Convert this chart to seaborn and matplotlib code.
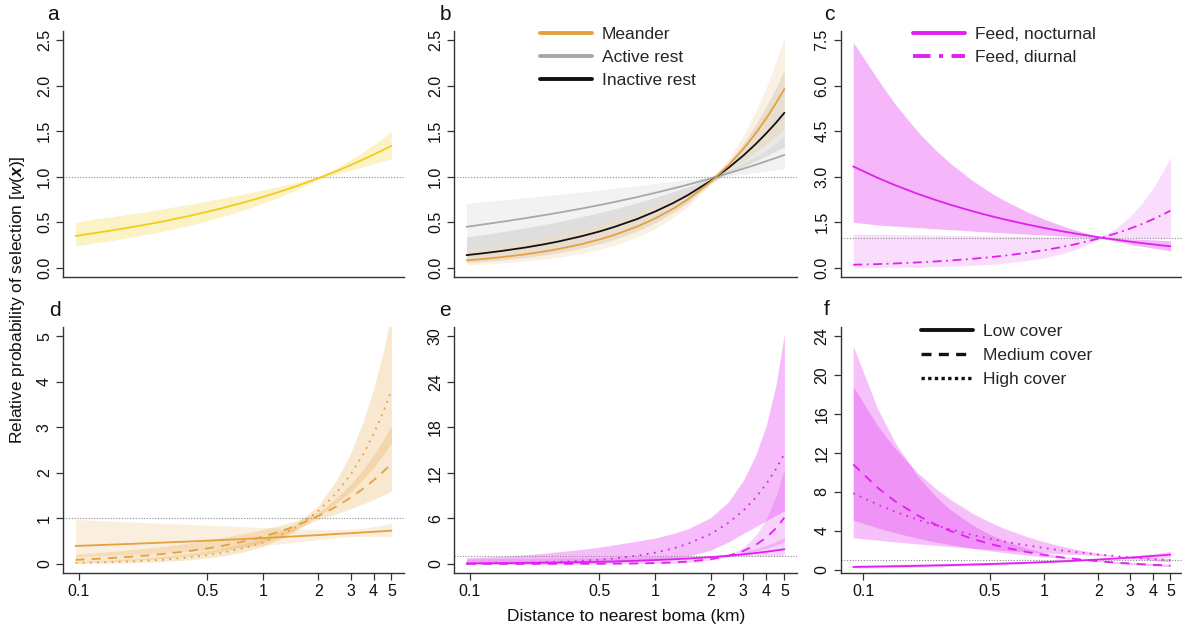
import numpy as np
import pandas as pd
import matplotlib
matplotlib.use("Agg")
import matplotlib.pyplot as plt
from matplotlib.lines import Line2D
from matplotlib.ticker import NullLocator
import seaborn as sns

# ---------------- data ----------------
X_ABDE = [0.096, 0.12, 0.15, 0.2, 0.25, 0.3, 0.4, 0.5, 0.6, 0.8, 1, 1.25, 1.5, 2, 2.5, 3, 3.5, 4, 4.5, 5]
X_CF = [0.088, 0.12, 0.15, 0.2, 0.25, 0.3, 0.4, 0.5, 0.6, 0.8, 1, 1.25, 1.5, 2, 2.5, 3, 3.5, 4, 4.5, 5]

# a
a_fit = [0.35, 0.380, 0.41, 0.452, 0.487, 0.518, 0.571, 0.616, 0.655, 0.722, 0.778, 0.839, 0.892, 0.984, 1.06, 1.128, 1.188, 1.243, 1.294, 1.34]
a_hi = [0.50, 0.534, 0.561, 0.598, 0.628, 0.655, 0.698, 0.734, 0.764, 0.815, 0.856, 0.899, 0.937, 1.0, 1.092, 1.187, 1.272, 1.352, 1.427, 1.50]
a_lo = [0.24, 0.271, 0.30, 0.342, 0.378, 0.410, 0.467, 0.517, 0.561, 0.640, 0.707, 0.783, 0.850, 0.968, 1.03, 1.072, 1.109, 1.143, 1.173, 1.20]

# b
b_meander = [0.0825, 0.0994, 0.119, 0.1496, 0.179, 0.2069, 0.260, 0.3113, 0.360, 0.453, 0.542, 0.648, 0.750, 0.944, 1.129, 1.305, 1.477, 1.644, 1.806, 1.964]
b_meander_hi = [0.206, 0.232, 0.260, 0.301, 0.337, 0.370, 0.428, 0.480, 0.526, 0.610, 0.683, 0.766, 0.841, 0.973, 1.191, 1.452, 1.718, 1.988, 2.259, 2.534]
b_meander_lo = [0.033, 0.0426, 0.054, 0.0744, 0.095, 0.1157, 0.158, 0.2019, 0.246, 0.337, 0.430, 0.548, 0.669, 0.916, 1.070, 1.173, 1.270, 1.360, 1.444, 1.522]
b_active = [0.451, 0.479, 0.507, 0.546, 0.578, 0.605, 0.651, 0.689, 0.722, 0.777, 0.823, 0.871, 0.912, 0.982, 1.039, 1.089, 1.132, 1.172, 1.207, 1.240]
b_active_hi = [0.707, 0.727, 0.745, 0.771, 0.791, 0.807, 0.833, 0.855, 0.873, 0.902, 0.926, 0.949, 0.969, 1.002, 1.071, 1.153, 1.225, 1.293, 1.37, 1.45]
b_active_lo = [0.207, 0.233, 0.261, 0.301, 0.338, 0.370, 0.428, 0.478, 0.525, 0.607, 0.680, 0.760, 0.834, 0.964, 1.008, 1.028, 1.046, 1.063, 1.077, 1.090]
b_inactive = [0.140, 0.1623, 0.187, 0.224, 0.258, 0.2891, 0.347, 0.3989, 0.448, 0.536, 0.618, 0.7106, 0.797, 0.956, 1.100, 1.233, 1.359, 1.479, 1.592, 1.702]
b_inactive_hi = [0.339, 0.368, 0.398, 0.440, 0.476, 0.507, 0.561, 0.606, 0.646, 0.714, 0.773, 0.836, 0.890, 0.985, 1.158, 1.366, 1.572, 1.778, 1.977, 2.177]
b_inactive_lo = [0.058, 0.0716, 0.088, 0.114, 0.140, 0.165, 0.214, 0.263, 0.310, 0.402, 0.494, 0.604, 0.714, 0.928, 1.045, 1.113, 1.175, 1.230, 1.282, 1.331]

# c
c_noct = [3.34, 2.965, 2.723, 2.438, 2.239, 2.088, 1.870, 1.717, 1.601, 1.434, 1.316, 1.209, 1.127, 1.010, 0.927, 0.864, 0.815, 0.774, 0.740, 0.711]
c_noct_hi = [7.425, 6.215, 5.392, 4.486, 3.891, 3.464, 2.884, 2.500, 2.227, 1.853, 1.606, 1.394, 1.241, 1.032, 0.978, 0.956, 0.937, 0.921, 0.907, 0.896]
c_noct_lo = [1.502, 1.415, 1.375, 1.325, 1.288, 1.259, 1.213, 1.179, 1.151, 1.110, 1.079, 1.049, 1.024, 0.988, 0.879, 0.781, 0.709, 0.650, 0.604, 0.564]
c_diur = [0.104, 0.1238, 0.146, 0.1797, 0.212, 0.2416, 0.298, 0.3508, 0.401, 0.495, 0.582, 0.6848, 0.783, 0.965, 1.135, 1.298, 1.452, 1.600, 1.744, 1.883]
c_diur_hi = [1.111, 1.106, 1.099, 1.086, 1.079, 1.071, 1.059, 1.052, 1.046, 1.036, 1.027, 1.018, 1.012, 1.002, 1.296, 1.706, 2.146, 2.619, 3.125, 3.655]
c_diur_lo = [0.0097, 0.0139, 0.0194, 0.0297, 0.0417, 0.0545, 0.0838, 0.117, 0.1537, 0.2366, 0.3297, 0.4605, 0.6056, 0.930, 0.994, 0.988, 0.982, 0.977, 0.973, 0.970]

# d
d_low = [0.394, 0.408, 0.423, 0.442, 0.458, 0.471, 0.492, 0.510, 0.524, 0.548, 0.568, 0.588, 0.605, 0.633, 0.655, 0.674, 0.691, 0.705, 0.718, 0.730]
d_low_hi = [0.977, 0.957, 0.940, 0.917, 0.900, 0.886, 0.865, 0.849, 0.835, 0.815, 0.801, 0.786, 0.774, 0.756, 0.745, 0.760, 0.785, 0.818, 0.857, 0.894]
d_low_lo = [0.159, 0.174, 0.190, 0.213, 0.233, 0.250, 0.280, 0.306, 0.329, 0.369, 0.403, 0.440, 0.473, 0.530, 0.579, 0.600, 0.603, 0.600, 0.598, 0.596]
d_med = [0.0888, 0.1073, 0.129, 0.1622, 0.194, 0.2252, 0.284, 0.3408, 0.395, 0.499, 0.598, 0.7157, 0.830, 1.048, 1.255, 1.454, 1.648, 1.836, 2.020, 2.2]
d_med_hi = [0.211, 0.240, 0.271, 0.316, 0.356, 0.393, 0.458, 0.518, 0.572, 0.668, 0.754, 0.850, 0.938, 1.130, 1.438, 1.749, 2.067, 2.389, 2.711, 3.04]
d_med_lo = [0.037, 0.048, 0.061, 0.0833, 0.106, 0.129, 0.176, 0.224, 0.273, 0.373, 0.474, 0.603, 0.735, 0.972, 1.095, 1.209, 1.314, 1.411, 1.505, 1.60]
d_high = [0.0221, 0.0299, 0.0399, 0.058, 0.0775, 0.0983, 0.1428, 0.1909, 0.2422, 0.3517, 0.470, 0.628, 0.796, 1.158, 1.547, 1.961, 2.396, 2.851, 3.322, 3.81]
d_high_hi = [0.0536, 0.0678, 0.0848, 0.1134, 0.142, 0.1708, 0.228, 0.2862, 0.344, 0.460, 0.576, 0.7216, 0.868, 1.276, 1.819, 2.432, 3.105, 3.840, 4.631, 5.48]
d_high_lo = [0.0091, 0.0132, 0.0188, 0.0297, 0.0423, 0.0566, 0.0893, 0.1273, 0.170, 0.269, 0.383, 0.5466, 0.730, 1.051, 1.315, 1.581, 1.849, 2.117, 2.383, 2.65]

# e
e_low = [0.069, 0.0841, 0.1015, 0.1291, 0.156, 0.1816, 0.231, 0.2789, 0.325, 0.414, 0.500, 0.6024, 0.702, 0.894, 1.078, 1.257, 1.430, 1.601, 1.767, 1.93]
e_low_hi = [0.658, 0.681, 0.703, 0.731, 0.756, 0.774, 0.806, 0.831, 0.853, 0.889, 0.918, 0.945, 0.969, 1.010, 1.185, 1.570, 1.989, 2.445, 2.931, 3.447]
e_low_lo = [0.0072, 0.0104, 0.0147, 0.0228, 0.0322, 0.0426, 0.0662, 0.0936, 0.124, 0.193, 0.272, 0.384, 0.508, 0.791, 0.981, 1.006, 1.028, 1.048, 1.065, 1.081]
e_med = [0.0003, 0.00054, 0.00095, 0.00195, 0.0034, 0.00537, 0.011, 0.01926, 0.0304, 0.0623, 0.109, 0.1903, 0.300, 0.617, 1.076, 1.697, 2.496, 3.486, 4.680, 6.09]
e_med_hi = [0.0071, 0.0102, 0.0145, 0.0225, 0.0317, 0.0421, 0.0653, 0.0924, 0.122, 0.190, 0.269, 0.379, 0.501, 0.781, 1.163, 2.186, 3.724, 5.916, 8.887, 12.5]
e_med_lo = [0.00001, 0.00003, 0.00006, 0.00017, 0.00036, 0.00069, 0.0019, 0.0040, 0.0076, 0.0204, 0.0442, 0.0956, 0.180, 0.487, 0.995, 1.318, 1.673, 2.054, 2.464, 2.95]
e_high = [0.0522, 0.0727, 0.0996, 0.150, 0.206, 0.267, 0.401, 0.551, 0.715, 1.074, 1.476, 2.025, 2.623, 3.948, 5.420, 7.017, 8.738, 10.56, 12.48, 14.5]
e_high_hi = [0.8, 0.9, 1.0, 1.2, 1.4, 1.6, 1.9, 2.2, 2.5, 3.0, 3.4, 4.0, 4.6, 6.1, 8.2, 11.0, 14.3, 18.3, 23.5, 30.3]
e_high_lo = [0.004, 0.007, 0.01, 0.02, 0.03, 0.05, 0.09, 0.14, 0.2, 0.35, 0.55, 0.75, 1.0, 1.8, 2.9, 4.0, 4.9, 5.7, 6.4, 7.0]

# f
f_low = [0.270, 0.309, 0.340, 0.385, 0.424, 0.458, 0.518, 0.571, 0.617, 0.699, 0.770, 0.847, 0.916, 1.038, 1.142, 1.236, 1.321, 1.399, 1.472, 1.54]
f_low_hi = [0.476, 0.515, 0.545, 0.586, 0.619, 0.648, 0.696, 0.737, 0.771, 0.828, 0.877, 0.927, 0.970, 1.075, 1.231, 1.377, 1.513, 1.642, 1.763, 1.880]
f_low_lo = [0.153, 0.185, 0.212, 0.253, 0.290, 0.324, 0.386, 0.443, 0.494, 0.590, 0.676, 0.774, 0.865, 1.002, 1.059, 1.110, 1.154, 1.192, 1.229, 1.261]
f_med = [10.81, 8.41, 7.02, 5.56, 4.64, 4.00, 3.17, 2.65, 2.28, 1.81, 1.51, 1.260, 1.087, 0.861, 0.719, 0.620, 0.547, 0.491, 0.4465, 0.41]
f_med_hi = [22.97, 16.53, 13.04, 9.60, 7.57, 6.23, 4.59, 3.63, 2.98, 2.20, 1.735, 1.368, 1.127, 0.929, 0.821, 0.742, 0.680, 0.632, 0.592, 0.558]
f_med_lo = [5.09, 4.28, 3.78, 3.22, 2.84, 2.57, 2.19, 1.936, 1.744, 1.487, 1.314, 1.160, 1.048, 0.798, 0.630, 0.518, 0.440, 0.382, 0.337, 0.301]
f_high = [7.85, 6.68, 5.95, 5.12, 4.56, 4.15, 3.57, 3.18, 2.89, 2.49, 2.22, 1.974, 1.80, 1.55, 1.38, 1.25, 1.156, 1.08, 1.014, 0.96]
f_high_hi = [18.81, 14.78, 12.45, 9.95, 8.37, 7.27, 5.81, 4.89, 4.24, 3.40, 2.86, 2.404, 2.09, 1.674, 1.408, 1.335, 1.286, 1.242, 1.202, 1.169]
f_high_lo = [3.28, 3.02, 2.84, 2.64, 2.49, 2.37, 2.19, 2.07, 1.97, 1.82, 1.72, 1.621, 1.55, 1.435, 1.353, 1.170, 1.040, 0.939, 0.856, 0.788]

XTICKS = [0.1, 0.5, 1, 2, 3, 4, 5]
XTICKLABELS = ["0.1", "0.5", "1", "2", "3", "4", "5"]
YT_AB = [0.0, 0.5, 1.0, 1.5, 2.0, 2.5]
YT_C = [0.0, 1.5, 3.0, 4.5, 6.0, 7.5]
YT_D = [0, 1, 2, 3, 4, 5]
YT_E = [0, 6, 12, 18, 24, 30]
YT_F = [0, 4, 8, 12, 16, 20, 24]

# ---------------- style ----------------
sns.set_style("ticks")
plt.rcParams["font.family"] = ["Liberation Sans", "DejaVu Sans"]
plt.rcParams["mathtext.fontset"] = "custom"
plt.rcParams["mathtext.rm"] = "Liberation Sans"
plt.rcParams["mathtext.it"] = "Liberation Sans:italic"
plt.rcParams["mathtext.bf"] = "Liberation Sans:bold"
HAS_BFIT = "mathtext.bfit" in plt.rcParams
if HAS_BFIT:
    plt.rcParams["mathtext.bfit"] = "Liberation Sans:bold:italic"

YEL = "#F2CD1E"
ORA = "#E6A03C"
GRY = "#A8A8A8"
BLK = "#111111"
MAG = "#E020F0"
SPINE = "#333333"
LW = 1.3
DASH = (5, 4)
DOT = (1, 3)
DOTDASH = (5, 2.5, 1, 2.5)

W, H = 1182, 631
fig = plt.figure(figsize=(W / 100, H / 100), dpi=100)


def make_ax(left_px, top_px, width_px, height_px):
    return fig.add_axes([left_px / W, 1 - (top_px + height_px) / H, width_px / W, height_px / H])


def style(ax, xlim, ylim, yticks, bottom_row):
    ax.set_xscale("log")
    ax.set_xlim(*xlim)
    ax.set_ylim(*ylim)
    for s in ["top", "right"]:
        ax.spines[s].set_visible(False)
    for s in ["left", "bottom"]:
        ax.spines[s].set_color(SPINE)
        ax.spines[s].set_linewidth(1.0)
    ax.set_yticks(yticks)
    ax.set_yticklabels([f"{t:g}" if isinstance(t, int) else f"{t:.1f}" for t in yticks],
                       rotation=90, va="center", fontsize=11.5)
    ax.tick_params(axis="y", length=5, width=0.9, color=SPINE, pad=3, labelcolor="#111111")
    ax.xaxis.set_minor_locator(NullLocator())
    if bottom_row:
        ax.set_xticks(XTICKS)
        ax.set_xticklabels(XTICKLABELS, fontsize=11.5)
        ax.tick_params(axis="x", length=5, width=0.9, color=SPINE, pad=3, labelcolor="#111111")
    else:
        ax.set_xticks([])
        ax.tick_params(axis="x", length=0, labelbottom=False)
    ax.xaxis.set_minor_locator(NullLocator())
    ax.axhline(1, color="#8c8c8c", lw=0.8, ls=(0, (1, 1.5)), zorder=2)
    ax.set_xlabel("")
    ax.set_ylabel("")


def band(ax, x, lo, hi, color, alpha):
    ax.fill_between(x, lo, hi, color=color, alpha=alpha, lw=0, zorder=1)


def lines(ax, x, series, palette, dashes):
    frames = []
    for name, ys in series.items():
        frames.append(pd.DataFrame({"x": x, "y": ys, "series": name}))
    df = pd.concat(frames, ignore_index=True)
    sns.lineplot(data=df, x="x", y="y", hue="series", style="series",
                 palette=palette, dashes=dashes, estimator=None, sort=False,
                 legend=False, linewidth=LW, ax=ax, zorder=3)


XL_AB = (0.0821, 5.85)
XL_C = (0.075, 5.87)
TOP1, TOP2, HT = 31, 327, 246
COLS = [(63, 341, XL_AB), (454, 343, XL_AB), (840.7, 342.3, XL_C)]

# ---- a ----
ax = make_ax(COLS[0][0], TOP1, COLS[0][1], HT)
band(ax, X_ABDE, a_lo, a_hi, YEL, 0.25)
lines(ax, X_ABDE, {"a": a_fit}, {"a": YEL}, {"a": ""})
style(ax, COLS[0][2], (-0.1, 2.6), YT_AB, False)

# ---- b ----
ax = make_ax(COLS[1][0], TOP1, COLS[1][1], HT)
band(ax, X_ABDE, b_active_lo, b_active_hi, "#808080", 0.10)
band(ax, X_ABDE, b_inactive_lo, b_inactive_hi, "#808080", 0.17)
band(ax, X_ABDE, b_meander_lo, b_meander_hi, ORA, 0.14)
lines(ax, X_ABDE, {"Active rest": b_active, "Inactive rest": b_inactive, "Meander": b_meander},
      {"Active rest": GRY, "Inactive rest": BLK, "Meander": ORA},
      {"Active rest": "", "Inactive rest": "", "Meander": ""})
style(ax, COLS[1][2], (-0.1, 2.6), YT_AB, False)
hb = [Line2D([], [], color=ORA, lw=2.8), Line2D([], [], color=GRY, lw=2.8), Line2D([], [], color=BLK, lw=2.8)]
fig.legend(hb, ["Meander", "Active rest", "Inactive rest"], loc="upper left",
           bbox_to_anchor=(540 / W, 1 - 27 / H), frameon=False, fontsize=12.5,
           handlelength=3.0, handletextpad=0.55, labelspacing=0.45, borderpad=0, borderaxespad=0)

# ---- c ----
ax = make_ax(COLS[2][0], TOP1, COLS[2][1], HT)
band(ax, X_CF, c_noct_lo, c_noct_hi, MAG, 0.32)
band(ax, X_CF, c_diur_lo, c_diur_hi, MAG, 0.15)
lines(ax, X_CF, {"Feed, nocturnal": c_noct, "Feed, diurnal": c_diur},
      {"Feed, nocturnal": MAG, "Feed, diurnal": MAG},
      {"Feed, nocturnal": "", "Feed, diurnal": DOTDASH})
style(ax, COLS[2][2], (-0.3, 7.8), YT_C, False)
hc = [Line2D([], [], color=MAG, lw=2.8), Line2D([], [], color=MAG, lw=2.8, ls=(0, (4.5, 2.2, 1, 2.2)))]
fig.legend(hc, ["Feed, nocturnal", "Feed, diurnal"], loc="upper left",
           bbox_to_anchor=(913 / W, 1 - 27 / H), frameon=False, fontsize=12.5,
           handlelength=3.0, handletextpad=0.55, labelspacing=0.45, borderpad=0, borderaxespad=0)

# ---- d ----
ax = make_ax(COLS[0][0], TOP2, COLS[0][1], HT)
band(ax, X_ABDE, d_low_lo, d_low_hi, ORA, 0.17)
band(ax, X_ABDE, d_med_lo, d_med_hi, ORA, 0.24)
band(ax, X_ABDE, d_high_lo, d_high_hi, ORA, 0.24)
lines(ax, X_ABDE, {"Low": d_low, "Medium": d_med, "High": d_high},
      {"Low": ORA, "Medium": ORA, "High": ORA},
      {"Low": "", "Medium": DASH, "High": DOT})
style(ax, COLS[0][2], (-0.2, 5.2), YT_D, True)

# ---- e ----
ax = make_ax(COLS[1][0], TOP2, COLS[1][1], HT)
band(ax, X_ABDE, e_low_lo, e_low_hi, MAG, 0.2)
band(ax, X_ABDE, e_med_lo, e_med_hi, MAG, 0.2)
band(ax, X_ABDE, e_high_lo, e_high_hi, MAG, 0.3)
lines(ax, X_ABDE, {"Low": e_low, "Medium": e_med, "High": e_high},
      {"Low": MAG, "Medium": MAG, "High": MAG},
      {"Low": "", "Medium": DASH, "High": DOT})
style(ax, COLS[1][2], (-1.2, 31.2), YT_E, True)

# ---- f ----
ax = make_ax(COLS[2][0], TOP2, COLS[2][1], HT)
band(ax, X_CF, f_low_lo, f_low_hi, MAG, 0.2)
band(ax, X_CF, f_high_lo, f_high_hi, MAG, 0.28)
band(ax, X_CF, f_med_lo, f_med_hi, MAG, 0.28)
lines(ax, X_CF, {"Low": f_low, "Medium": f_med, "High": f_high},
      {"Low": MAG, "Medium": MAG, "High": MAG},
      {"Low": "", "Medium": DASH, "High": DOT})
style(ax, COLS[2][2], (-0.35, 24.92), YT_F, True)
hf = [Line2D([], [], color=BLK, lw=2.8), Line2D([], [], color=BLK, lw=2.4, ls=(0, (3, 2.2))),
      Line2D([], [], color=BLK, lw=2.4, ls=(0, (1, 1)))]
fig.legend(hf, ["Low cover", "Medium cover", "High cover"], loc="upper left",
           bbox_to_anchor=(921 / W, 1 - 324 / H), frameon=False, fontsize=12.5,
           handlelength=3.0, handletextpad=0.55, labelspacing=0.5, borderpad=0, borderaxespad=0)

# ---- panel letters & axis labels ----
for lab, xp, yp in [("a", 53, 15), ("b", 445, 15), ("c", 829, 15),
                    ("d", 55, 310), ("e", 445, 310), ("f", 827, 309)]:
    fig.text(xp / W, 1 - yp / H, lab, ha="center", va="center", fontsize=15, color="#111111")

xs = r"$\mathbfit{x}$" if HAS_BFIT else r"$\boldsymbol{x}$"
fig.text(18 / W, 1 - 300 / H, "Relative probability of selection [" + r"$\mathit{w}$(" + xs + ")]",
         rotation=90, ha="center", va="center", fontsize=12.5, color="#111111")
fig.text(626 / W, 1 - 616 / H, "Distance to nearest boma (km)", ha="center", va="center",
         fontsize=12.5, color="#111111")

fig.savefig("out.png", dpi=100)
